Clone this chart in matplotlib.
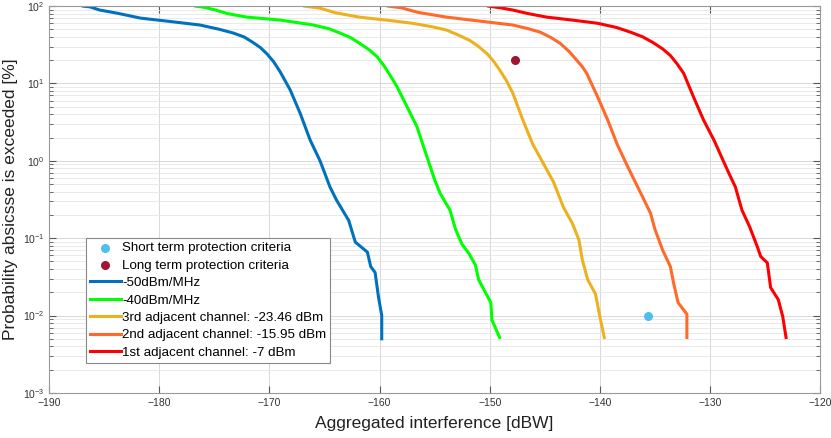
import matplotlib.pyplot as plt
from matplotlib.ticker import LogLocator, NullFormatter, MultipleLocator

plt.rcParams['font.family'] = ['Liberation Sans', 'DejaVu Sans']

# curves: interference [dBW] vs probability exceeded [%]
x_50 = [-186.9, -186.3, -185.4, -183.8, -181.7, -179.3, -176.3, -174.5, -173.3, -172.3,
        -171.5, -170.8, -170.2, -169.6, -169.0, -168.1, -167.2, -166.3, -165.4, -164.5,
        -163.9, -162.8, -162.2, -161.1, -160.8, -160.4, -160.1, -159.8, -159.8]
p_50 = [100, 98, 89, 81, 70, 64, 57, 50, 45, 40,
        34, 29, 24, 19, 14, 8.2, 4.1, 1.86, 1.0, 0.46,
        0.31, 0.17, 0.089, 0.066, 0.043, 0.036, 0.0175, 0.01, 0.005]

x_40 = [-176.7, -176.0, -175.0, -173.8, -172.0, -169.0, -166.0, -164.6, -163.6, -162.6,
        -161.8, -160.9, -160.2, -159.6, -159.0, -158.4, -157.5, -156.6, -155.9, -155.0,
        -154.5, -153.6, -153.1, -152.5, -151.9, -151.3, -151.0, -149.9, -149.8, -149.1]
p_40 = [100, 97, 90, 80, 72, 66, 57, 51, 45, 39,
        33, 27, 22, 17, 12.5, 9.0, 5.0, 2.75, 1.38, 0.57,
        0.38, 0.23, 0.13, 0.083, 0.064, 0.045, 0.029, 0.0147, 0.0088, 0.0052]

x_3rd = [-166.8, -165.4, -164.0, -161.8, -159.0, -157.0, -155.2, -153.9, -152.8, -151.8,
         -151.0, -150.2, -149.6, -149.1, -148.5, -147.9, -147.0, -146.1, -144.8, -144.2,
         -143.3, -142.5, -141.9, -141.6, -141.1, -140.4, -140.0, -139.6]
p_3rd = [100, 94, 82, 72, 65, 60, 54, 49, 42, 36,
         30, 24, 19, 15, 11, 7.5, 3.4, 1.65, 0.76, 0.53,
         0.25, 0.156, 0.095, 0.053, 0.029, 0.019, 0.0097, 0.0052]

x_2nd = [-159.2, -158.0, -156.5, -153.9, -150.9, -147.9, -146.5, -145.4, -144.4, -143.6,
         -142.8, -142.1, -141.6, -141.2, -140.2, -139.3, -138.4, -137.4, -136.2, -135.4,
         -135.0, -134.3, -133.9, -133.6, -133.3, -132.9, -132.1, -132.1]
p_2nd = [100, 95, 83, 72, 64, 57, 51, 46, 39, 33,
         26, 20, 16.5, 13.6, 6.7, 3.4, 1.6, 0.8, 0.36, 0.21,
         0.13, 0.07, 0.053, 0.043, 0.026, 0.0147, 0.0104, 0.0052]

x_1st = [-150.1, -149.0, -147.9, -146.5, -144.8, -142.5, -140.2, -138.5, -137.2, -136.1,
         -135.2, -134.3, -133.6, -133.0, -132.4, -131.5, -130.6, -129.6, -128.8, -128.2,
         -127.7, -127.1, -126.4, -125.7, -125.4, -124.8, -124.5, -123.8, -123.4, -123.1]
p_1st = [100, 95, 89, 80, 72, 66, 60, 53, 46, 40,
         34, 28, 23, 18, 13.6, 6.7, 3.4, 1.8, 1.0, 0.65,
         0.46, 0.23, 0.14, 0.077, 0.058, 0.048, 0.023, 0.016, 0.0097, 0.0052]

short_term = (-135.6, 0.01)
long_term = (-147.7, 20)

labels = ['-50dBm/MHz', '-40dBm/MHz', '3rd adjacent channel: -23.46 dBm',
          '2nd adjacent channel: -15.95 dBm', '1st adjacent channel: -7 dBm']
colors = ['#0072BD', '#00FF00', '#EDB120', '#FF6A2A', '#FF0000']

fig = plt.figure(figsize=(8.31, 4.38), dpi=100)
ax = fig.add_axes([0.059, 0.103, 0.928, 0.883])

handles = []
for xs, ps, lab, col in zip([x_50, x_40, x_3rd, x_2nd, x_1st],
                            [p_50, p_40, p_3rd, p_2nd, p_1st], labels, colors):
    h, = ax.plot(xs, ps, color=col, lw=2.2, label=lab, solid_joinstyle='round')
    handles.append(h)

h_short = ax.scatter([short_term[0]], [short_term[1]], s=30, color='#4DBEEE',
                     zorder=3, label='Short term protection criteria')
h_long = ax.scatter([long_term[0]], [long_term[1]], s=30, color='#A2142F',
                    zorder=3, label='Long term protection criteria')

ax.set_yscale('log')
ax.set_xlim(-190, -120)
ax.set_ylim(1e-3, 1e2)
ax.xaxis.set_major_locator(MultipleLocator(10))
ax.yaxis.set_major_locator(LogLocator(base=10, numticks=10))
ax.yaxis.set_minor_locator(LogLocator(base=10, subs=range(2, 10), numticks=10))
ax.yaxis.set_minor_formatter(NullFormatter())

ax.grid(True, which='major', color='#d8d8d8', lw=0.7)
ax.grid(True, which='minor', axis='y', color='#e6e6e6', lw=0.6)
ax.set_axisbelow(True)

ax.tick_params(which='both', direction='in', top=True, right=True,
               labelsize=7.5, colors='#555555', labelcolor='#333333')
ax.tick_params(which='major', length=5)
ax.tick_params(which='minor', length=3)
for sp in ax.spines.values():
    sp.set_color('#999999')

ax.set_xlabel('Aggregated interference [dBW]', fontsize=12.5, color='#222222', labelpad=6)
ax.set_ylabel('Probability absicsse is exceeded [%]', fontsize=12.5, color='#222222', labelpad=3)

leg = ax.legend(handles=[h_short, h_long] + handles, loc='lower left',
                bbox_to_anchor=(0.048, 0.078), fontsize=9.6, handlelength=2.3,
                handletextpad=0.1, borderpad=0.3, labelspacing=0.38,
                fancybox=False, framealpha=1, edgecolor='#888888', borderaxespad=0)
leg.get_frame().set_linewidth(0.8)

fig.savefig('out.png', dpi=100)
